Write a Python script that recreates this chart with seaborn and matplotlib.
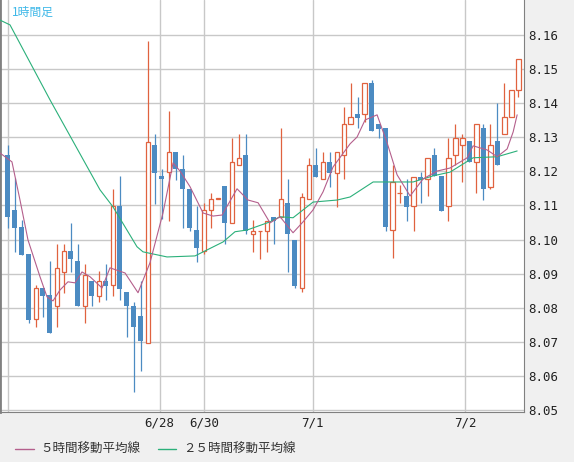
import matplotlib
matplotlib.use("Agg")
import matplotlib.pyplot as plt
import seaborn as sns
import pandas as pd

opens  = [8.1248,8.1087,8.1037,8.0958,8.0767,8.0858,8.0838,8.0806,8.0905,8.0967,
          8.0937,8.0806,8.0879,8.0835,8.0879,8.0867,8.1099,8.0847,8.0806,8.0776,
          8.0697,8.1278,8.1187,8.1199,8.1257,8.1207,8.1149,8.1028,8.0967,8.1087,
          8.1119,8.1157,8.1049,8.1219,8.1248,8.1017,8.1025,8.1025,8.1067,8.1067,
          8.1108,8.0999,8.0858,8.1119,8.1219,8.1178,8.1228,8.1196,8.1248,8.1339,
          8.1369,8.1369,8.1460,8.1339,8.1328,8.1028,8.1137,8.1128,8.1099,8.1184,
          8.1178,8.1248,8.1187,8.1099,8.1248,8.1278,8.1289,8.1228,8.1328,8.1155,
          8.1289,8.1310,8.1360,8.1439]
closes = [8.1067,8.1034,8.0955,8.0764,8.0858,8.0835,8.0726,8.0917,8.0967,8.0943,
          8.0806,8.0896,8.0835,8.0879,8.0864,8.1099,8.0855,8.0806,8.0744,8.0703,
          8.1287,8.1196,8.1178,8.1257,8.1207,8.1149,8.1034,8.0976,8.1087,8.1119,
          8.1121,8.1049,8.1228,8.1240,8.1025,8.1025,8.1025,8.1055,8.1055,8.1119,
          8.1017,8.0864,8.1125,8.1219,8.1184,8.1228,8.1196,8.1257,8.1339,8.1360,
          8.1357,8.1460,8.1319,8.1325,8.1037,8.1169,8.1138,8.1096,8.1184,8.1175,
          8.1240,8.1187,8.1084,8.1240,8.1298,8.1298,8.1228,8.1339,8.1149,8.1278,
          8.1219,8.1360,8.1439,8.1530]
highs  = [8.1278,8.1181,8.1058,8.0958,8.0867,8.0858,8.0937,8.0987,8.0987,8.1049,
          8.0987,8.0929,8.0879,8.0908,8.0929,8.1149,8.1187,8.0847,8.0817,8.0879,
          8.1583,8.1310,8.1207,8.1377,8.1257,8.1248,8.1149,8.1099,8.1108,8.1137,
          8.1121,8.1157,8.1298,8.1310,8.1310,8.1058,8.1025,8.1055,8.1067,8.1328,
          8.1178,8.0999,8.1137,8.1240,8.1269,8.1257,8.1257,8.1257,8.1389,8.1460,
          8.1418,8.1460,8.1468,8.1339,8.1328,8.1219,8.1160,8.1178,8.1184,8.1199,
          8.1240,8.1269,8.1187,8.1298,8.1339,8.1310,8.1289,8.1339,8.1339,8.1339,
          8.1401,8.1460,8.1439,8.1530]
lows   = [8.1034,8.0964,8.0955,8.0756,8.0744,8.0773,8.0726,8.0744,8.0844,8.0905,
          8.0806,8.0756,8.0806,8.0817,8.0823,8.0835,8.0823,8.0715,8.0553,8.0615,
          8.0697,8.1105,8.1061,8.1055,8.1175,8.1034,8.1025,8.0935,8.0958,8.1034,
          8.1119,8.0987,8.1049,8.1219,8.1017,8.0964,8.0943,8.0964,8.0987,8.1067,
          8.0905,8.0858,8.0847,8.1119,8.1184,8.1178,8.1155,8.1096,8.1178,8.1339,
          8.1328,8.1345,8.1319,8.1298,8.1025,8.0946,8.1108,8.1055,8.1025,8.1108,
          8.1128,8.1187,8.1084,8.1055,8.1219,8.1169,8.1228,8.1137,8.1116,8.1149,
          8.1219,8.1310,8.1360,8.1418]

ma5_x = [-1.14,0.57,1.72,2.86,4.58,5.58,6.44,7.44,8.58,9.58,10.59,11.73,13.45,14.59,16.74,
         18.60,20.31,22.17,23.61,24.61,26.04,27.90,29.33,30.62,32.76,34.33,35.77,37.48,
         38.91,40.77,42.20,43.63,45.06,46.49,48.93,49.93,51.07,52.79,54.22,55.65,57.51,
         59.37,61.37,63.23,65.67,66.52,68.53,69.96,71.39,72.25,72.82]
ma5_y = [8.1254,8.1228,8.1116,8.0999,8.0891,8.0832,8.0820,8.0852,8.0876,8.0873,8.0905,
         8.0891,8.0858,8.0917,8.0902,8.0844,8.0932,8.1078,8.1225,8.1201,8.1155,8.1078,
         8.1069,8.1072,8.1149,8.1116,8.1108,8.1049,8.1067,8.1020,8.1052,8.1087,8.1140,
         8.1213,8.1281,8.1301,8.1351,8.1366,8.1284,8.1190,8.1128,8.1178,8.1201,8.1210,
         8.1240,8.1275,8.1263,8.1243,8.1266,8.1316,8.1366]
ma25_x = [-1.14,0.29,6.01,13.16,15.02,18.45,19.31,22.75,26.75,30.76,32.47,34.19,37.48,
          38.91,40.77,43.63,47.07,48.93,52.22,55.08,57.94,60.80,63.23,66.52,69.96,72.82]
ma25_y = [8.1644,8.1630,8.1410,8.1146,8.1096,8.0979,8.0964,8.0949,8.0952,8.0993,8.1023,
          8.1028,8.1052,8.1067,8.1064,8.1110,8.1116,8.1125,8.1169,8.1169,8.1169,8.1187,
          8.1198,8.1240,8.1243,8.1260]

tick_pos = [21.7, 28.0, 43.6, 65.4]
tick_labels = ["6/28", "6/30", "7/1", "7/2"]
y_ticks = [8.05,8.06,8.07,8.08,8.09,8.10,8.11,8.12,8.13,8.14,8.15,8.16]

sns.set_style("white")
plt.rcParams['font.family'] = ['Noto Sans CJK JP', 'DejaVu Sans']

UP = "#e0623f"; DOWN = "#4c8bc2"; MA5C = "#b45f8c"; MA25C = "#2bb07a"

fig = plt.figure(figsize=(5.74, 4.62), dpi=100, facecolor="#f0f0f0")
ax = fig.add_axes([0.0, 50/462, 524/574, 412/462])
ax.set_facecolor("white")

df = pd.DataFrame({"o": opens, "c": closes, "h": highs, "l": lows})
df["i"] = range(len(df))
up = df[df.c >= df.o]; dn = df[df.c < df.o]

ax.vlines(up.i, up.l, up.h, color=UP, lw=0.9, zorder=3)
ax.vlines(dn.i, dn.l, dn.h, color=DOWN, lw=0.9, zorder=3)
hu = (up.c - up.o).clip(lower=0.00008)
ax.bar(up.i, hu, bottom=up.o, width=0.6, facecolor="white", edgecolor=UP, lw=0.9, zorder=4)
ax.bar(dn.i, dn.c - dn.o, bottom=dn.o, width=0.72, color=DOWN, lw=0, zorder=4)

sns.lineplot(x=ma25_x, y=ma25_y, ax=ax, color=MA25C, lw=0.8, zorder=5)
sns.lineplot(x=ma5_x, y=ma5_y, ax=ax, color=MA5C, lw=0.8, zorder=5)

ax.set_xlim(-1.14, 73.8)
ax.set_ylim(8.0494, 8.1703)
ax.yaxis.tick_right()
ax.set_yticks(y_ticks)
ax.set_yticklabels([f"{v:.2f}" for v in y_ticks], family="DejaVu Sans Mono", fontsize=9, color="#222")
ax.set_xticks(tick_pos)
ax.set_xticklabels(tick_labels, family="DejaVu Sans Mono", fontsize=9, color="#222")
ax.tick_params(axis="both", length=0, pad=3)
ax.grid(True, color="#c8c8c8", lw=1)
ax.axvline(0, color="#c8c8c8", lw=1, zorder=0)
ax.spines["top"].set_visible(False)
ax.spines["left"].set_color("#808080"); ax.spines["left"].set_linewidth(2)
ax.spines["bottom"].set_color("#808080")
ax.spines["right"].set_color("#808080")

ax.text(0.022, 0.985, "1時間足", transform=ax.transAxes, color="#3fb8e8", fontsize=8.5,
        va="top", ha="left")

fig.lines.append(plt.Line2D([15/574, 34/574], [13/462, 13/462], color=MA5C, lw=1, transform=fig.transFigure))
fig.text(40/574, 13/462, "５時間移動平均線", fontsize=9, color="#333", va="center")
fig.lines.append(plt.Line2D([158/574, 176/574], [13/462, 13/462], color=MA25C, lw=1, transform=fig.transFigure))
fig.text(183/574, 13/462, "２５時間移動平均線", fontsize=9, color="#333", va="center")

fig.savefig("out.png", dpi=100, facecolor=fig.get_facecolor())
